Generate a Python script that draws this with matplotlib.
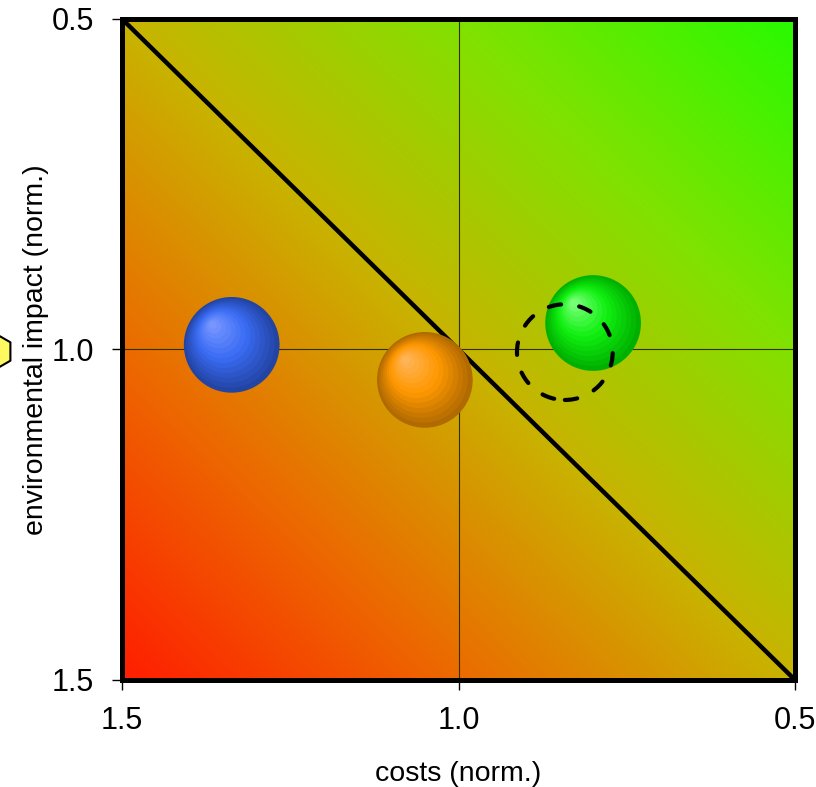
import numpy as np
import matplotlib.pyplot as plt
from matplotlib.colors import LinearSegmentedColormap

plt.rcParams['font.family'] = ['Liberation Sans', 'DejaVu Sans']

# data (normalised costs / environmental impact)
names = ["blue", "orange", "green"]
costs = [1.337, 1.05, 0.80]
impact = [0.993, 1.046, 0.96]
outer_colors = ["#2244a4", "#b06a00", "#00b000"]
mid_colors = ["#3a6cf4", "#ff9800", "#10f010"]
light_colors = ["#7896ff", "#ffb458", "#78ff78"]

target_cost = 0.842
target_impact = 1.004

ticks = [0.5, 1.0, 1.5]
tick_labels = ["0.5", "1.0", "1.5"]

fig = plt.figure(figsize=(8.16, 7.87), dpi=100)
ax = fig.add_axes([0.1495, 0.136, 0.8248, 0.8399])

# background gradient red (bottom-left) -> olive -> green (top-right)
bg = LinearSegmentedColormap.from_list(
    "bg", [(0.0, "#ff1e00"), (0.25, "#ec6a00"), (0.5, "#c8b400"),
           (0.75, "#80e200"), (1.0, "#28fa00")])
s = np.linspace(0, 1, 300)
xx, yy = np.meshgrid(s, s)
ax.imshow((xx + yy) / 2, cmap=bg, origin="lower", extent=[1.5, 0.5, 1.5, 0.5],
          aspect="auto", zorder=0, interpolation="bilinear")

ax.set_xlim(1.5, 0.5)
ax.set_ylim(1.5, 0.5)

# cross hair and diagonal
ax.axvline(1.0, color="#303000", lw=0.8, zorder=1)
ax.axhline(1.0, color="#303000", lw=0.8, zorder=1)
ax.plot([1.5, 0.5], [0.5, 1.5], color="black", lw=3.2, zorder=2,
        solid_capstyle="butt")

# shaded spheres: stacked scatter layers, highlight up-left
big = 4750
n = 14
for x, y, c0, c1, c2 in zip(costs, impact, outer_colors, mid_colors, light_colors):
    cm = LinearSegmentedColormap.from_list("sp", [c0, c1, c2])
    for i in range(n):
        f = i / (n - 1)
        size = big * (1 - 0.92 * f) ** 2
        dx = 0.028 * f
        dy = -0.03 * f
        ax.scatter([x + dx], [y + dy], s=size, color=cm(f), edgecolors="none",
                   zorder=3 + i * 0.01)

# dashed target circle
ring = ax.scatter([target_cost], [target_impact], s=big, facecolors="none",
                  edgecolors="black", linestyles=(0, (3.0, 4.4)),
                  linewidths=3.0, zorder=4)
ring.set_capstyle("round")

# partly visible marker at the left edge
ax.scatter([1.69], [1.003], s=700, marker="h", color="#fff860",
           edgecolors="black", linewidths=1.5, clip_on=False, zorder=5)

for sp in ax.spines.values():
    sp.set_linewidth(3.6)
    sp.set_zorder(6)

ax.set_xticks(ticks)
ax.set_xticklabels(tick_labels)
ax.set_yticks(ticks)
ax.set_yticklabels(tick_labels)
ax.tick_params(axis="both", direction="out", length=7, width=1, labelsize=22)
ax.tick_params(axis="x", pad=12)
ax.tick_params(axis="y", pad=13)

ax.set_xlabel("costs (norm.)", fontsize=20.5, labelpad=18)
ax.set_ylabel("environmental impact (norm.)", fontsize=20.5, labelpad=2)

fig.savefig("out.png", dpi=100)
